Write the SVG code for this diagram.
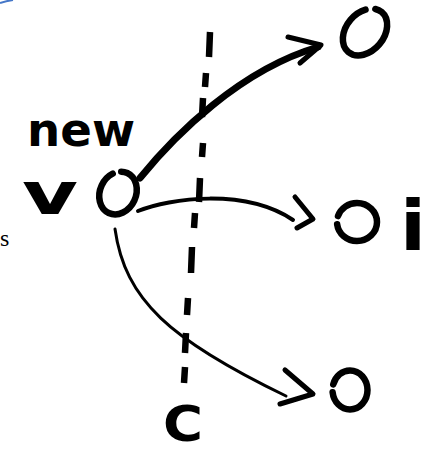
<svg xmlns="http://www.w3.org/2000/svg" width="426" height="453" viewBox="0 0 426 453">
<style>
.ring{fill:none;stroke:#000;stroke-width:6.5;stroke-linecap:round}
.edge{fill:none;stroke:#000;stroke-linecap:round;stroke-linejoin:round}
.head{fill:none;stroke:#000;stroke-width:5;stroke-linecap:round;stroke-linejoin:round}
.hand{font-family:"DejaVu Sans",sans-serif;font-weight:bold;fill:#000}
.cut{fill:none;stroke:#000;stroke-width:6.5;stroke-linecap:butt}
</style>
<rect width="426" height="453" fill="#fff"/>
<path d="M0,3 Q6,1 13,0" fill="none" stroke="#4577c8" stroke-width="2"/>
<text x="0" y="246" font-family="Liberation Serif,serif" font-size="24" fill="#000">s</text>

<g id="cut-line">
<path class="cut" d="M210,32L209,57M206,73L205,87M203,98L202,117M203,143L202,157M200,178L199,202M195,213L194,228M192,247L191,273M188,298L187,315M186,333L185,353M185,367L184,383"/>
<text class="hand" x="163" y="441" font-size="50" textLength="40" lengthAdjust="spacingAndGlyphs">C</text>
</g>

<g id="node-v">
<ellipse class="ring" cx="118" cy="193" rx="18" ry="22" transform="rotate(25 118 193)" pathLength="100" stroke-dasharray="93 7" stroke-dashoffset="-70"/>
<text class="hand" x="27" y="146" font-size="46" textLength="108" lengthAdjust="spacingAndGlyphs">new</text>
<text class="hand" x="22" y="214" font-size="58" textLength="56" lengthAdjust="spacingAndGlyphs">v</text>
</g>

<g id="node-top">
<ellipse class="ring" cx="365" cy="32" rx="19" ry="26" transform="rotate(40 365 32)" pathLength="100" stroke-dasharray="93 7" stroke-dashoffset="-70"/>
</g>

<g id="node-i">
<ellipse class="ring" cx="357" cy="222" rx="20" ry="19" pathLength="100" stroke-dasharray="93 7" stroke-dashoffset="-55"/>
<text class="hand" x="400" y="250" font-size="70" textLength="26" lengthAdjust="spacingAndGlyphs">i</text>
</g>

<g id="node-bottom">
<ellipse class="ring" cx="350" cy="390" rx="17.5" ry="19.5" pathLength="100" stroke-dasharray="93 7" stroke-dashoffset="-55"/>
</g>

<g id="connectors">
<path class="edge" stroke-width="7" d="M140,178 C175,135 240,70 318,47"/>
<polyline class="head" stroke-width="6" points="288,37 321,45 300,63"/>
<path class="edge" stroke-width="4" d="M138,211 C170,198 245,188 293,220"/>
<polyline class="head" points="295,197 313,219 297,228"/>
<path class="edge" stroke-width="3" d="M115,229 C125,300 170,340 286,396"/>
<polyline class="head" points="285,370 313,394 280,404"/>
</g>
</svg>
